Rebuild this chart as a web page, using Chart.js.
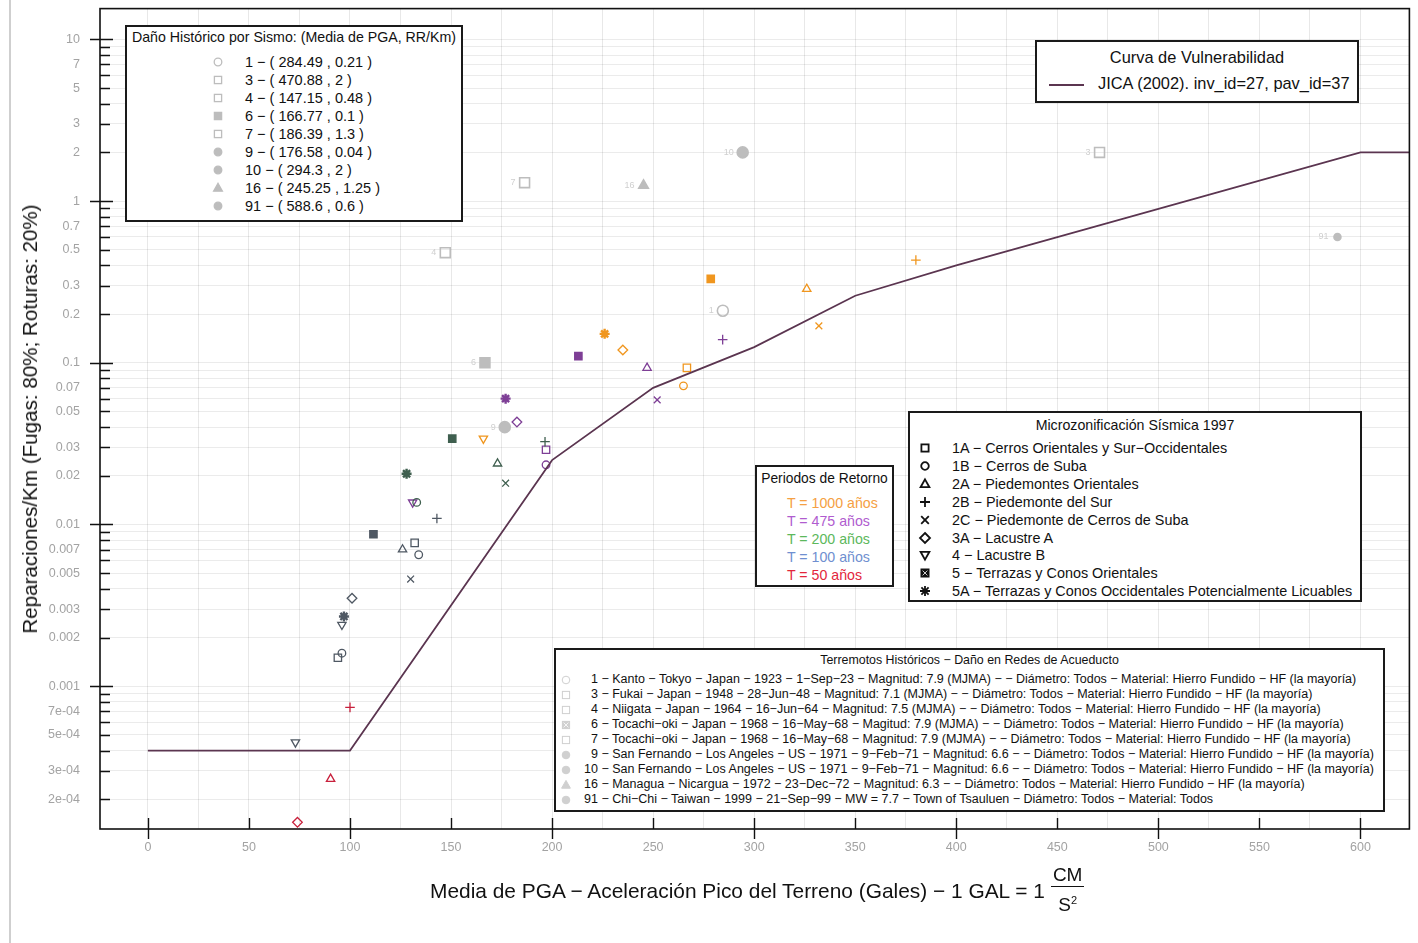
<!DOCTYPE html>
<html>
<head>
<meta charset="utf-8">
<script src="https://cdn.jsdelivr.net/npm/chart.js@4.4.1/dist/chart.umd.min.js"></script>
<style>
html, body { margin: 0; padding: 0; background: #fff; overflow: hidden; }
body { font-family: 'Liberation Sans', Arial, sans-serif; color: #111; }
#wrap { position: relative; width: 1418px; height: 943px; }
#wrap canvas { position: absolute; left: 0; top: 0; }
.edge { position: absolute; left: 9px; top: 0; width: 2px; height: 943px; background: #cfcfcf; }
.box { position: absolute; background: #fff; border: 2px solid #1a1a1a; box-sizing: border-box; }
.row { position: absolute; white-space: nowrap; }
.row svg { position: absolute; top: 50%; transform: translate(-50%, -50%); }
.ttl { position: absolute; left: 0; right: 0; text-align: center; white-space: nowrap; }
#xtitle { position: absolute; left: 430px; top: 864px; font-size: 20.9px; white-space: nowrap; display: flex; align-items: center; }
.frac { display: inline-flex; flex-direction: column; align-items: center; margin-left: 6px; font-size: 19px; line-height: 26px; }
.frac .num { border-bottom: 1.5px solid #111; padding: 0 2px; line-height: 22px; }
#ytitle { position: absolute; left: 30px; top: 419px; font-size: 20.6px; white-space: nowrap; transform: translate(-50%, -50%) rotate(-90deg); }
</style>
</head>
<body>
<div id="wrap">
  <div class="edge"></div>
  <canvas id="chart" width="1418" height="943"></canvas>

  <div class="box" id="histBox" style="left:125px; top:25px; width:338px; height:197px;">
    <div class="ttl" style="top:2px; font-size:14.2px;">Daño Histórico por Sismo: (Media de PGA, RR/Km)</div>
  </div>

  <div class="box" style="left:1035px; top:40px; width:324px; height:63px;">
    <div class="ttl" style="top:6px; font-size:16.4px;">Curva de Vulnerabilidad</div>
    <div style="position:absolute; left:12px; top:42px; width:35px; height:1.6px; background:#5b3550;"></div>
    <div class="row" style="left:61px; top:32px; font-size:16.4px;">JICA (2002). inv_id=27, pav_id=37</div>
  </div>

  <div class="box" id="zoneBox" style="left:908px; top:411px; width:454px; height:191px;">
    <div class="ttl" style="top:4px; font-size:14.2px;">Microzonificación Sísmica 1997</div>
  </div>

  <div class="box" id="periodBox" style="left:755px; top:465px; width:139px; height:122px;">
    <div class="ttl" style="top:4px; font-size:13.8px;">Periodos de Retorno</div>
  </div>

  <div class="box" id="quakeBox" style="left:554px; top:648px; width:831px; height:164px;">
    <div class="ttl" style="top:3px; font-size:12.4px;">Terremotos Históricos − Daño en Redes de Acueducto</div>
  </div>

  <div id="xtitle">Media de PGA − Aceleración Pico del Terreno (Gales) − 1 GAL = 1
    <span class="frac"><span class="num">CM</span><span>S<sup style="font-size:11px">2</sup></span></span>
  </div>
  <div id="ytitle">Reparaciones/Km (Fugas: 80%; Roturas: 20%)</div>
</div>

<script>
// --- axis ticks ---
const xLabelStep = 50;
const yTickVals = [10, 7, 5, 3, 2, 1, 0.7, 0.5, 0.3, 0.2, 0.1, 0.07, 0.05, 0.03, 0.02, 0.01,
  0.007, 0.005, 0.003, 0.002, 0.001, 0.0007, 0.0005, 0.0003, 0.0002];
const yTickText = ['10', '7', '5', '3', '2', '1', '0.7', '0.5', '0.3', '0.2', '0.1', '0.07', '0.05', '0.03', '0.02', '0.01',
  '0.007', '0.005', '0.003', '0.002', '0.001', '7e-04', '5e-04', '3e-04', '2e-04'];

// --- vulnerability curve JICA (2002) ---
const curvePga = [0, 100, 200, 250, 300, 350, 400, 600, 630];
const curveRr = [0.0004, 0.0004, 0.025, 0.07, 0.125, 0.26, 0.4, 2, 2];

// --- historic earthquakes (mean PGA, RR/Km) ---
const histIds = ['1', '3', '4', '6', '7', '9', '10', '16', '91'];
const histPga = [284.49, 470.88, 147.15, 166.77, 186.39, 176.58, 294.3, 245.25, 588.6];
const histRr = [0.21, 2, 0.48, 0.1, 1.3, 0.04, 2, 1.25, 0.6];
const histShapes = ['circle', 'rect', 'rect', 'rectF', 'rect', 'circleF', 'circleF', 'triangleF', 'circleF'];
const histText = [
  '1 − Kanto − Tokyo − Japan − 1923 − 1−Sep−23 − Magnitud: 7.9 (MJMA) − − Diámetro: Todos − Material: Hierro Fundido − HF (la mayoría)',
  '3 − Fukai − Japan − 1948 − 28−Jun−48 − Magnitud: 7.1 (MJMA) − − Diámetro: Todos − Material: Hierro Fundido − HF (la mayoría)',
  '4 − Niigata − Japan − 1964 − 16−Jun−64 − Magnitud: 7.5 (MJMA) − − Diámetro: Todos − Material: Hierro Fundido − HF (la mayoría)',
  '6 − Tocachi−oki − Japan − 1968 − 16−May−68 − Magitud: 7.9 (MJMA) − − Diámetro: Todos − Material: Hierro Fundido − HF (la mayoría)',
  '7 − Tocachi−oki − Japan − 1968 − 16−May−68 − Magnitud: 7.9 (MJMA) − − Diámetro: Todos − Material: Hierro Fundido − HF (la mayoría)',
  '9 − San Fernando − Los Angeles − US − 1971 − 9−Feb−71 − Magnitud: 6.6 − − Diámetro: Todos − Material: Hierro Fundido − HF (la mayoría)',
  '10 − San Fernando − Los Angeles − US − 1971 − 9−Feb−71 − Magnitud: 6.6 − − Diámetro: Todos − Material: Hierro Fundido − HF (la mayoría)',
  '16 − Managua − Nicargua − 1972 − 23−Dec−72 − Magnitud: 6.3 − − Diámetro: Todos − Material: Hierro Fundido − HF (la mayoría)',
  '91 − Chi−Chi − Taiwan − 1999 − 21−Sep−99 − MW = 7.7 − Town of Tsauluen − Diámetro: Todos − Material: Todos'
];

// --- seismic microzonation 1997 ---
const zoneCodes = ['1A', '1B', '2A', '2B', '2C', '3A', '4', '5', '5A'];
const zoneNames = ['1A − Cerros Orientales y Sur−Occidentales', '1B − Cerros de Suba', '2A − Piedemontes Orientales',
  '2B − Piedemonte del Sur', '2C − Piedemonte de Cerros de Suba', '3A − Lacustre A', '4 − Lacustre B',
  '5 − Terrazas y Conos Orientales', '5A − Terrazas y Conos Occidentales Potencialmente Licuables'];
const zoneShapes = ['rect', 'circle', 'triangle', 'cross', 'crossRot', 'rectRot', 'triangleDown', 'rectF', 'star'];

// --- return periods ---
const periodNames = ['T = 1000 años', 'T = 475 años', 'T = 200 años', 'T = 100 años', 'T = 50 años'];
const periodText = ['#f5a043', '#b05ccf', '#5cb85c', '#6f8fd0', '#e3263c'];
const periodMark = ['#f0961e', '#7e3f96', '#3f5f4f', '#4f5863', '#c8203c'];

const t1000Zone = ['4', '5A', '3A', '1B', '1A', '5', '2A', '2C', '2B'];
const t1000Pga = [166, 226, 235, 265, 266.7, 278.5, 326, 332, 380];
const t1000Rr = [0.034, 0.151, 0.12, 0.072, 0.093, 0.33, 0.286, 0.169, 0.432];

const t475Zone = ['4', '5A', '3A', '1B', '1A', '5', '2A', '2C', '2B'];
const t475Pga = [131, 177, 182.6, 197, 197, 213, 247, 252, 284.4];
const t475Rr = [0.0137, 0.06, 0.043, 0.0234, 0.029, 0.11, 0.093, 0.059, 0.139];

const t200Zone = ['5A', '1B', '5', '2A', '2C', '2B'];
const t200Pga = [128, 133, 150.6, 173, 177, 196.5];
const t200Rr = [0.0206, 0.0137, 0.034, 0.0238, 0.018, 0.0325];

const t100Zone = ['4', '5A', '3A', '1B', '1A', '5', '2A', '2C', '2B', '4', '1B', '1A'];
const t100Pga = [96, 97, 101, 134, 132, 111.6, 126, 130, 143, 73, 96, 94];
const t100Rr = [0.0024, 0.0027, 0.0035, 0.0065, 0.0077, 0.0087, 0.007, 0.0046, 0.0109, 0.00045, 0.0016, 0.0015];

const t50Zone = ['3A', '2A', '2B'];
const t50Pga = [74, 90.4, 100];
const t50Rr = [0.000144, 0.000267, 0.00074];

const curveColor = '#5b3550';
const histColor = '#bdbdbd';

// small svg marker for the html legends
function sym(shape, color, sw) {
  sw = sw || 1.3;
  let body = '';
  const f = shape.endsWith('F') ? color : 'none';
  const s = shape.replace(/F$/, '');
  if (s === 'rect') body = `<rect x="-3.6" y="-3.6" width="7.2" height="7.2" fill="${f}" stroke="${color}" stroke-width="${sw}"/>`;
  if (s === 'circle') body = `<circle r="3.8" fill="${f}" stroke="${color}" stroke-width="${sw}"/>`;
  if (s === 'triangle') body = `<polygon points="0,-4.6 4.4,3.2 -4.4,3.2" fill="${f}" stroke="${color}" stroke-width="${sw}"/>`;
  if (s === 'triangleDown') body = `<polygon points="0,4.6 4.4,-3.2 -4.4,-3.2" fill="none" stroke="${color}" stroke-width="${sw}"/>`;
  if (s === 'cross') body = `<path d="M-5 0H5M0 -5V5" stroke="${color}" stroke-width="${sw}"/>`;
  if (s === 'crossRot') body = `<path d="M-3.8 -3.8L3.8 3.8M3.8 -3.8L-3.8 3.8" stroke="${color}" stroke-width="${sw}"/>`;
  if (s === 'rectRot') body = `<polygon points="0,-5 5,0 0,5 -5,0" fill="none" stroke="${color}" stroke-width="${sw}"/>`;
  if (s === 'star') body = `<path d="M-5 0H5M0 -5V5M-3.6 -3.6L3.6 3.6M3.6 -3.6L-3.6 3.6" stroke="${color}" stroke-width="${sw}"/>`;
  if (shape === 'rectF' && color !== histColor) body += `<path d="M-2.4 -2.4L2.4 2.4M2.4 -2.4L-2.4 2.4" stroke="#fff" stroke-width="0.8"/>`;
  return `<svg width="14" height="14" viewBox="-7 -7 14 14">${body}</svg>`;
}

// --- build html legends ---
const histBox = document.getElementById('histBox');
histIds.forEach((id, i) => {
  const r = document.createElement('div');
  r.className = 'row';
  r.style.cssText = `left:0; top:${26 + i * 18}px; height:18px; line-height:18px; font-size:14.5px; width:100%;`;
  r.innerHTML = `<span style="position:absolute; left:91px; top:0; height:18px; width:0;">${sym(histShapes[i], histColor)}</span>` +
    `<span style="position:absolute; left:118px;">${id} − ( ${histPga[i]} , ${histRr[i]} )</span>`;
  histBox.appendChild(r);
});

const zoneBox = document.getElementById('zoneBox');
zoneNames.forEach((name, i) => {
  const r = document.createElement('div');
  r.className = 'row';
  r.style.cssText = `left:0; top:${26 + i * 17.9}px; height:18px; line-height:18px; font-size:14.4px; width:100%;`;
  r.innerHTML = `<span style="position:absolute; left:15px; top:0; height:18px; width:0;">${sym(zoneShapes[i], '#111', 1.8)}</span>` +
    `<span style="position:absolute; left:42px;">${name}</span>`;
  zoneBox.appendChild(r);
});

const periodBox = document.getElementById('periodBox');
periodNames.forEach((name, i) => {
  const r = document.createElement('div');
  r.className = 'row';
  r.style.cssText = `left:30px; top:${27 + i * 18}px; height:18px; line-height:18px; font-size:14.2px; color:${periodText[i]};`;
  r.textContent = name;
  periodBox.appendChild(r);
});

const quakeBox = document.getElementById('quakeBox');
histText.forEach((t, i) => {
  const r = document.createElement('div');
  r.className = 'row';
  r.style.cssText = `left:0; top:${22 + i * 15}px; height:15px; line-height:15px; font-size:12.5px; width:100%;`;
  r.innerHTML = `<span style="position:absolute; left:10px; top:0; height:15px; width:0;">${sym(histShapes[i], '#d0d0d0', 1)}</span>` +
    `<span style="position:absolute; left:${histIds[i].length > 1 ? 28 : 35}px;">${t}</span>`;
  quakeBox.appendChild(r);
});

// --- chart datasets ---
function zoneStyle(z) { return zoneShapes[zoneCodes.indexOf(z)]; }
function pointsOf(pga, rr) { return pga.map((v, i) => ({ x: v, y: rr[i] })); }

function periodSet(label, zones, pga, rr, color) {
  const styles = zones.map(zoneStyle);
  return {
    type: 'scatter',
    label: label,
    data: pointsOf(pga, rr),
    pointStyle: styles.map(s => s === 'rectF' ? 'rect' : s === 'triangleDown' ? 'triangle' : s),
    rotation: styles.map(s => s === 'triangleDown' ? 180 : 0),
    pointRadius: styles.map(s => s === 'rect' || s === 'rectF' ? 5.2 : s === 'circle' ? 3.8 : s === 'star' ? 5 : 4.8),
    pointBorderWidth: styles.map(s => s === 'star' ? 2.4 : 1.3),
    pointBorderColor: color,
    pointBackgroundColor: styles.map(s => s === 'rectF' ? color : 'rgba(0,0,0,0)')
  };
}

const histStyles = histShapes.map(s => s.replace(/F$/, ''));

const datasets = [
  {
    type: 'scatter',
    label: 'Historicos',
    data: pointsOf(histPga, histRr),
    pointStyle: histStyles,
    pointRadius: histShapes.map((s, i) => histIds[i] === '91' ? 3.5 : s.startsWith('rect') ? 7 : 5.5),
    pointBorderWidth: 1.6,
    pointBorderColor: histColor,
    pointBackgroundColor: histShapes.map(s => s.endsWith('F') ? histColor : 'rgba(0,0,0,0)')
  },
  {
    type: 'line',
    label: 'JICA (2002)',
    data: pointsOf(curvePga, curveRr),
    borderColor: curveColor,
    borderWidth: 1.7,
    pointRadius: 0,
    tension: 0
  },
  periodSet(periodNames[4], t50Zone, t50Pga, t50Rr, periodMark[4]),
  periodSet(periodNames[3], t100Zone, t100Pga, t100Rr, periodMark[3]),
  periodSet(periodNames[2], t200Zone, t200Pga, t200Rr, periodMark[2]),
  periodSet(periodNames[1], t475Zone, t475Pga, t475Rr, periodMark[1]),
  periodSet(periodNames[0], t1000Zone, t1000Pga, t1000Rr, periodMark[0])
];

function isDecade(v) {
  const l = Math.log10(v);
  return Math.abs(l - Math.round(l)) < 1e-6;
}

// frame + inner/outer tick marks
const axisMarks = {
  id: 'axisMarks',
  afterDatasetsDraw(chart) {
    const { ctx, chartArea: a, scales: { x, y } } = chart;
    ctx.save();
    ctx.strokeStyle = '#111';
    ctx.lineWidth = 1.6;
    ctx.strokeRect(a.left, a.top, a.right - a.left, a.bottom - a.top);
    ctx.lineWidth = 1.4;
    ctx.beginPath();
    y.ticks.forEach(t => {
      const py = Math.round(y.getPixelForValue(t.value)) + 0.5;
      const dec = isDecade(t.value);
      ctx.moveTo(dec ? a.left - 10 : a.left, py);
      ctx.lineTo(a.left + (dec ? 13 : 10), py);
    });
    x.ticks.forEach(t => {
      if (t.value % 50 !== 0) return;
      const px = Math.round(x.getPixelForValue(t.value)) + 0.5;
      ctx.moveTo(px, a.bottom - 11);
      ctx.lineTo(px, a.bottom + (t.value % 100 === 0 ? 10 : 0));
    });
    ctx.stroke();
    // small grey ids next to the historic points
    ctx.fillStyle = '#cfcfcf';
    ctx.font = "9px 'Liberation Sans', Arial, sans-serif";
    ctx.textAlign = 'right';
    ctx.textBaseline = 'middle';
    histIds.forEach((id, i) => {
      ctx.fillText(id, x.getPixelForValue(histPga[i]) - 9, y.getPixelForValue(histRr[i]));
    });
    ctx.restore();
  }
};

Chart.defaults.font.family = "'Liberation Sans', Arial, sans-serif";

new Chart(document.getElementById('chart'), {
  data: { datasets: datasets },
  options: {
    responsive: false,
    animation: false,
    events: [],
    layout: { padding: { top: 7, right: 6, left: 0, bottom: 0 } },
    plugins: { legend: { display: false }, tooltip: { enabled: false } },
    scales: {
      x: {
        type: 'linear',
        min: -23.7,
        max: 624.2,
        afterFit: s => { s.height = 114; s.paddingLeft = 0; s.paddingRight = 0; },
        afterBuildTicks: s => {
          const t = [];
          for (let v = 0; v <= 600; v += 25) t.push({ value: v });
          s.ticks = t;
        },
        ticks: {
          autoSkip: false,
          maxRotation: 0,
          padding: 11,
          color: '#a3a3a3',
          font: { size: 12.5 },
          callback: v => (v % xLabelStep === 0 ? String(v) : '')
        },
        grid: { color: 'rgba(0,0,0,0.09)', drawTicks: false },
        border: { display: false }
      },
      y: {
        type: 'logarithmic',
        min: 1.309e-4,
        max: 15.5,
        afterFit: s => { s.width = 100; s.paddingTop = 0; s.paddingBottom = 0; },
        afterBuildTicks: s => {
          const t = [];
          for (let k = -4; k <= 1; k++) {
            for (let m = 1; m <= 9; m++) {
              const v = m * Math.pow(10, k);
              if (v >= s.min && v <= s.max) t.push({ value: v });
            }
          }
          s.ticks = t;
        },
        ticks: {
          autoSkip: false,
          padding: 20,
          color: '#a3a3a3',
          font: { size: 12.5 },
          callback: v => {
            const i = yTickVals.findIndex(w => Math.abs(w - v) / w < 1e-6);
            return i >= 0 ? yTickText[i] : '';
          }
        },
        grid: { color: 'rgba(0,0,0,0.08)', drawTicks: false },
        border: { display: false }
      }
    }
  },
  plugins: [axisMarks]
});
</script>
</body>
</html>
